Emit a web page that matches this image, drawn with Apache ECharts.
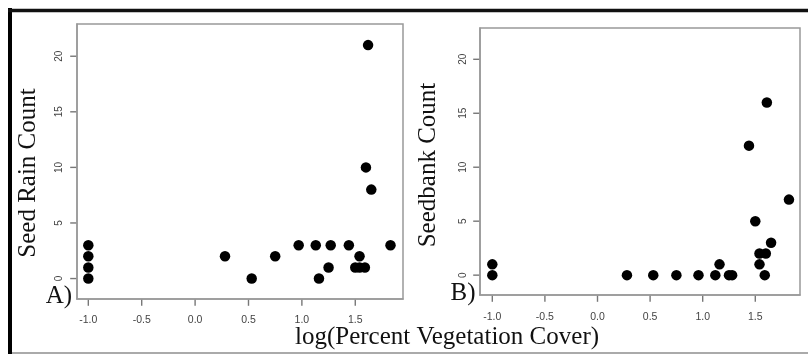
<!DOCTYPE html>
<html>
<head>
<meta charset="utf-8">
<script src="https://cdn.jsdelivr.net/npm/echarts@6/dist/echarts.min.js"></script>
<style>html,body{margin:0;padding:0;background:#fff}#c{width:808px;height:356px}</style>
</head>
<body>
<div id="c"></div>
<script>
// Panel A: Seed rain
var xA = [-1, -1, -1, -1, 0.28, 0.53, 0.75, 0.97, 1.13, 1.16, 1.25, 1.27, 1.44, 1.50, 1.54, 1.54, 1.59, 1.60, 1.62, 1.65, 1.83];
var yA = [0, 1, 2, 3, 2, 0, 2, 3, 3, 0, 1, 3, 3, 1, 1, 2, 1, 10, 21, 8, 3];
// Panel B: Seedbank
var xB = [-1, -1, 0.28, 0.53, 0.75, 0.96, 1.12, 1.16, 1.25, 1.28, 1.44, 1.50, 1.54, 1.54, 1.59, 1.60, 1.61, 1.65, 1.82];
var yB = [0, 1, 0, 0, 0, 0, 0, 1, 0, 0, 12, 5, 1, 2, 0, 2, 16, 3, 7];
var xTicks = [-1.0, -0.5, 0.0, 0.5, 1.0, 1.5];
var yTicks = [0, 5, 10, 15, 20];
var yTitleA = 'Seed Rain Count';
var yTitleB = 'Seedbank Count';
var xTitle = 'log(Percent Vegetation Cover)';
var panelLabels = ['A)', 'B)'];

var yRange = [-1.84, 22.9];
var xRangeA = [-1.106, 1.947];
var xRangeB = [-1.117, 1.925];

function pairs(xs, ys) { return xs.map(function (x, i) { return [x, ys[i]]; }); }

function xAxisDef(idx, range, margin) {
  return {
    type: 'value', gridIndex: idx, min: range[0], max: range[1], position: 'bottom',
    splitLine: { show: false },
    axisLine: { show: true, onZero: false, lineStyle: { color: '#999', width: 1.5 } },
    axisTick: { show: false },
    axisLabel: {
      customValues: xTicks, margin: margin, fontSize: 10.5, color: '#444', fontFamily: 'Liberation Sans',
      formatter: function (v) { return v.toFixed(1); }
    }
  };
}
function yAxisDef(idx, margin) {
  return {
    type: 'value', gridIndex: idx, min: yRange[0], max: yRange[1], position: 'left',
    splitLine: { show: false },
    axisLine: { show: true, onZero: false, lineStyle: { color: '#999', width: 1.5 } },
    axisTick: { show: false },
    axisLabel: { customValues: yTicks, rotate: 90, margin: margin, fontSize: 10, color: '#444', fontFamily: 'Liberation Sans' }
  };
}
// tick marks placed through the axes' own scales at the axis edges
function xTickSeries(idx) {
  return { type: 'scatter', xAxisIndex: idx, yAxisIndex: idx, clip: false, silent: true,
    data: xTicks.map(function (v) { return [v, yRange[0]]; }),
    symbol: 'rect', symbolSize: [1.4, 6], symbolOffset: [0, 3.8], itemStyle: { color: '#777', opacity: 1 } };
}
function yTickSeries(idx, range) {
  return { type: 'scatter', xAxisIndex: idx, yAxisIndex: idx, clip: false, silent: true,
    data: yTicks.map(function (v) { return [range[0], v]; }),
    symbol: 'rect', symbolSize: [6, 1.4], symbolOffset: [-3.8, 0], itemStyle: { color: '#777', opacity: 1 } };
}
var chart = echarts.init(document.getElementById('c'));
chart.setOption({
  animation: false,
  backgroundColor: '#fff',
  grid: [
    { left: 77, top: 24, width: 326, height: 275, show: true, borderColor: '#999', borderWidth: 1.5, backgroundColor: 'transparent' },
    { left: 480, top: 28, width: 320, height: 267, show: true, borderColor: '#999', borderWidth: 1.5, backgroundColor: 'transparent' }
  ],
  xAxis: [xAxisDef(0, xRangeA, 16), xAxisDef(1, xRangeB, 17)],
  yAxis: [yAxisDef(0, 13), yAxisDef(1, 12)],
  series: [
    { type: 'scatter', xAxisIndex: 0, yAxisIndex: 0, data: pairs(xA, yA), symbolSize: 10.5, itemStyle: { color: '#000', opacity: 1 } },
    { type: 'scatter', xAxisIndex: 1, yAxisIndex: 1, data: pairs(xB, yB), symbolSize: 10.5, itemStyle: { color: '#000', opacity: 1 } },
    xTickSeries(0), xTickSeries(1), yTickSeries(0, xRangeA), yTickSeries(1, xRangeB)
  ],
  graphic: [
    { type: 'line', shape: { x1: 10, y1: 8, x2: 10, y2: 354 }, style: { stroke: '#000', lineWidth: 4 } },
    { type: 'line', shape: { x1: 8, y1: 10.5, x2: 808, y2: 10.5 }, style: { stroke: '#111', lineWidth: 3.5 } },
    { type: 'line', shape: { x1: 12, y1: 353, x2: 808, y2: 353 }, style: { stroke: '#aaa', lineWidth: 2 } },
    { type: 'text', x: 28, y: 173, rotation: Math.PI / 2, style: { text: yTitleA, font: '25px "Liberation Serif"', fill: '#111', textAlign: 'center', textVerticalAlign: 'middle' } },
    { type: 'text', x: 428, y: 165, rotation: Math.PI / 2, style: { text: yTitleB, font: '25px "Liberation Serif"', fill: '#111', textAlign: 'center', textVerticalAlign: 'middle' } },
    { type: 'text', x: 447, y: 337, style: { text: xTitle, font: '25px "Liberation Serif"', fill: '#111', textAlign: 'center', textVerticalAlign: 'middle' } },
    { type: 'text', x: 59, y: 296, style: { text: panelLabels[0], font: '25px "Liberation Serif"', fill: '#111', textAlign: 'center', textVerticalAlign: 'middle' } },
    { type: 'text', x: 463, y: 293, style: { text: panelLabels[1], font: '25px "Liberation Serif"', fill: '#111', textAlign: 'center', textVerticalAlign: 'middle' } }
  ]
});
</script>
</body>
</html>
